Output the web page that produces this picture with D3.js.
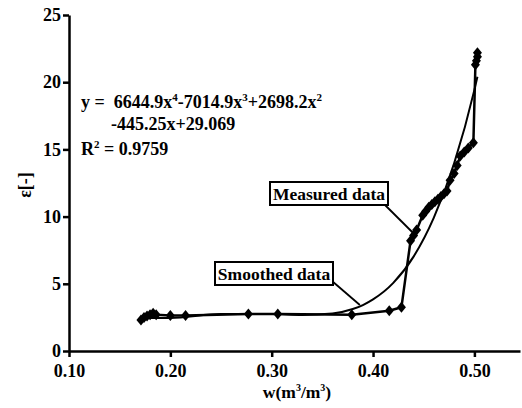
<!DOCTYPE html>
<html>
<head>
<meta charset="utf-8">
<script src="https://cdn.jsdelivr.net/npm/d3@7"></script>
<style>
  body { margin: 0; background: #fff; }
  svg text { font-family: "Liberation Serif", "Times New Roman", serif; font-weight: bold; fill: #000; }
</style>
</head>
<body>
<script>
// measured points (w, eps)
var measuredW = [0.171, 0.174, 0.177, 0.180, 0.183, 0.186, 0.200, 0.215, 0.277, 0.306, 0.379, 0.416, 0.428,
  0.437, 0.440, 0.443, 0.449, 0.452, 0.455, 0.458, 0.461, 0.464, 0.467, 0.470, 0.473, 0.476, 0.480,
  0.483, 0.486, 0.490, 0.494, 0.499, 0.501, 0.502, 0.503, 0.503]
var measuredE = [2.3, 2.5, 2.6, 2.7, 2.8, 2.7, 2.65, 2.65, 2.75, 2.75, 2.7, 3.0, 3.25,
  8.2, 8.6, 9.0, 10.1, 10.4, 10.7, 10.9, 11.1, 11.3, 11.5, 11.7, 11.9, 12.7, 13.2,
  13.8, 14.5, 14.8, 15.1, 15.5, 21.3, 21.6, 21.9, 22.2]

// smoothed curve
var smoothW = [0.17, 0.20, 0.25, 0.30, 0.33, 0.36, 0.38, 0.39, 0.40, 0.42, 0.44, 0.46, 0.48, 0.50, 0.503]
var smoothE = [2.45, 2.46, 2.75, 2.75, 2.68, 2.79, 3.12, 3.42, 3.84, 5.07, 7.02, 9.92, 13.96, 19.43, 20.41]

var xTicks = [0.1, 0.2, 0.3, 0.4, 0.5]
var yTicks = [0, 5, 10, 15, 20, 25]

var width = 522
var height = 408
var serif = '"Liberation Serif", "Times New Roman", serif'

var x = d3.scaleLinear().domain([0.1, 0.545]).range([69, 520])
var y = d3.scaleLinear().domain([0, 25]).range([351, 15])

var svg = d3.select('body').append('svg')
  .attr('width', width)
  .attr('height', height)
  .attr('font-family', serif)

var measured = measuredW.map((w, i) => [w, measuredE[i]])
var smooth = smoothW.map((w, i) => [w, smoothE[i]])

var line = d3.line().x(d => x(d[0])).y(d => y(d[1]))
var curve = d3.line().x(d => x(d[0])).y(d => y(d[1])).curve(d3.curveMonotoneX)

svg.append('path')
  .datum(smooth)
  .attr('d', curve)
  .attr('fill', 'none')
  .attr('stroke', '#000')
  .attr('stroke-width', 2)

svg.append('path')
  .datum(measured)
  .attr('d', line)
  .attr('fill', 'none')
  .attr('stroke', '#000')
  .attr('stroke-width', 2.5)
  .attr('stroke-linejoin', 'round')

var diamond = 'M0,-5.5L4.5,0L0,5.5L-4.5,0Z'
svg.selectAll('.pt')
  .data(measured)
  .enter()
  .append('path')
  .attr('class', 'pt')
  .attr('d', diamond)
  .attr('transform', d => 'translate(' + x(d[0]) + ',' + y(d[1]) + ')')
  .attr('fill', '#000')

// axes
var xAxis = d3.axisBottom(x).tickValues(xTicks).tickFormat(d3.format('.2f')).tickSize(6).tickSizeOuter(0).tickPadding(7)
var yAxis = d3.axisLeft(y).tickValues(yTicks).tickSize(6).tickSizeOuter(0).tickPadding(2)

var gx = svg.append('g').attr('transform', 'translate(0,' + y(0) + ')').call(xAxis)
var gy = svg.append('g').attr('transform', 'translate(' + x(0.1) + ',0)').call(yAxis)

;[gx, gy].forEach(g => {
  g.attr('font-family', serif).attr('font-size', 18)
  g.select('.domain').attr('stroke-width', 2.5)
  g.selectAll('.tick line').attr('stroke-width', 2.5)
  g.selectAll('.tick text').attr('font-size', 18)
})

// axis titles
var xt = svg.append('text')
  .attr('x', 297).attr('y', 398)
  .attr('text-anchor', 'middle')
  .attr('font-size', 17.5)
xt.append('tspan').text('w(m')
xt.append('tspan').attr('dy', -7).attr('font-size', 10).text('3')
xt.append('tspan').attr('dy', 7).text('/m')
xt.append('tspan').attr('dy', -7).attr('font-size', 10).text('3')
xt.append('tspan').attr('dy', 7).text(')')

svg.append('text')
  .attr('transform', 'translate(31,185) rotate(-90)')
  .attr('text-anchor', 'middle')
  .attr('font-size', 18)
  .text('ε[-]')

// regression equation
var eq = svg.append('text').attr('x', 81).attr('y', 108).attr('font-size', 18).style('white-space', 'pre')
eq.append('tspan').text('y =  6644.9x')
eq.append('tspan').attr('dy', -7).attr('font-size', 11).text('4')
eq.append('tspan').attr('dy', 7).text('-7014.9x')
eq.append('tspan').attr('dy', -7).attr('font-size', 11).text('3')
eq.append('tspan').attr('dy', 7).text('+2698.2x')
eq.append('tspan').attr('dy', -7).attr('font-size', 11).text('2')

svg.append('text').attr('x', 111).attr('y', 130).attr('font-size', 18).text('-445.25x+29.069')

var r2 = svg.append('text').attr('x', 81).attr('y', 155).attr('font-size', 18)
r2.append('tspan').text('R')
r2.append('tspan').attr('dy', -7).attr('font-size', 11).text('2')
r2.append('tspan').attr('dy', 7).text(' = 0.9759')

// callout labels
var callouts = [
  {text: 'Measured data', target: [0.4396, 8.78], box: [270, 182, 118, 23], from: [385, 205]},
  {text: 'Smoothed data', target: [0.387, 3.42], box: [215, 262, 118, 23], from: [332, 281]}
]

callouts.forEach(c => {
  svg.append('line')
    .attr('x1', c.from[0]).attr('y1', c.from[1])
    .attr('x2', x(c.target[0])).attr('y2', y(c.target[1]))
    .attr('stroke', '#000').attr('stroke-width', 1.8)
  svg.append('rect')
    .attr('x', c.box[0]).attr('y', c.box[1])
    .attr('width', c.box[2]).attr('height', c.box[3])
    .attr('fill', '#fff').attr('stroke', '#000').attr('stroke-width', 2)
  svg.append('text')
    .attr('x', c.box[0] + c.box[2] / 2).attr('y', c.box[1] + c.box[3] / 2 + 6)
    .attr('text-anchor', 'middle')
    .attr('font-size', 17.5)
    .text(c.text)
})
</script>
</body>
</html>
